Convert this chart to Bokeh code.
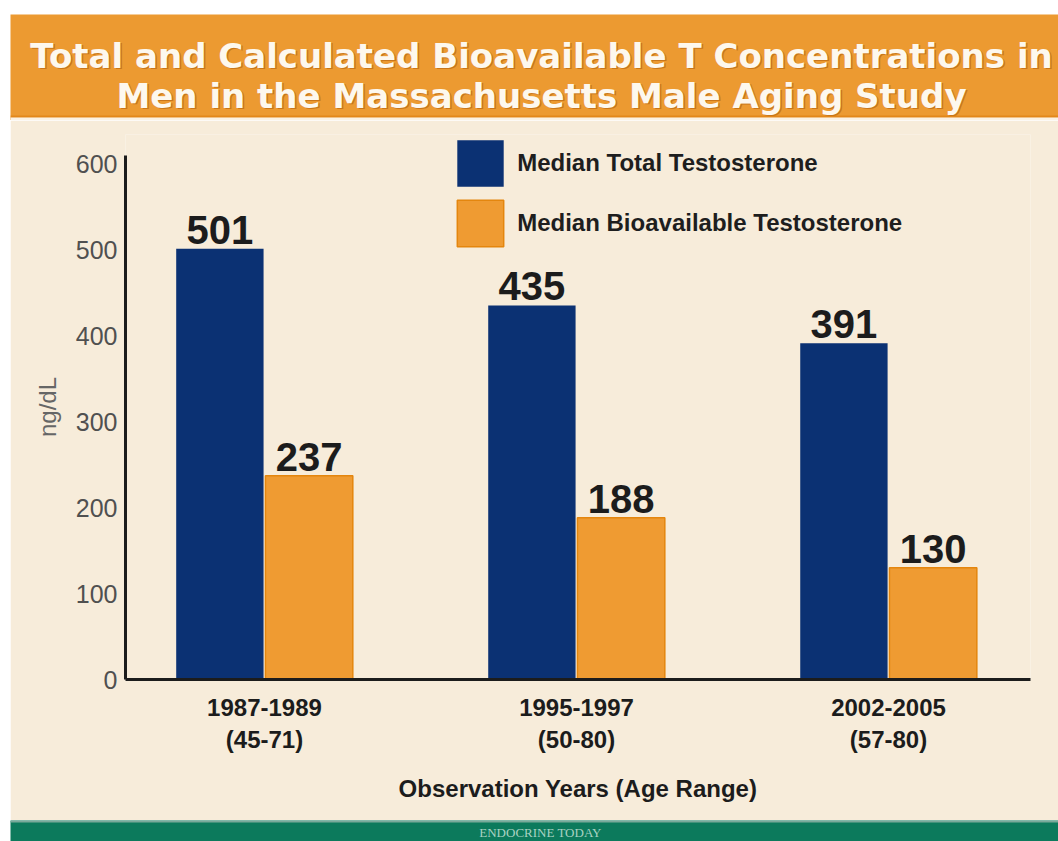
from bokeh.plotting import figure
from bokeh.models import (Range1d, FixedTicker, ColumnDataSource, Legend,
                          LegendItem, Label, BoxAnnotation, Spacer)
from bokeh.transform import dodge
from bokeh.layouts import column, row
from bokeh.core.properties import value
from bokeh.embed import file_html
from bokeh.resources import INLINE

# ---------------- data ----------------
title_lines = ["Total and Calculated Bioavailable T Concentrations in",
               "Men in the Massachusetts Male Aging Study"]
periods = ["1987-1989", "1995-1997", "2002-2005"]
age_ranges = ["(45-71)", "(50-80)", "(57-80)"]
total_t = [501, 435, 391]
bioavailable_t = [237, 188, 130]
series_names = ["Median Total Testosterone", "Median Bioavailable Testosterone"]
y_ticks = [0, 100, 200, 300, 400, 500, 600]
y_label = "ng/dL"
x_label = "Observation Years (Age Range)"
footer_text = "ENDOCRINE TODAY"

# ---------------- styles ----------------
LEFT_PAD = 10
W = 1058 - LEFT_PAD
BG = "#f7ecda"
ORANGE = "#ec9a31"
BAR_ORANGE = "#ef9b32"
BLUE = "#0b3173"
DARK = "#1c1c1c"
SANS = "Liberation Sans"

# ---------------- banner ----------------
BH = 120
banner = figure(width=W, height=BH, x_range=Range1d(0, W), y_range=Range1d(0, BH - 14),
                output_backend="svg", toolbar_location=None,
                x_axis_location=None, y_axis_location=None, frame_align=False,
                min_border=0, min_border_top=14,
                border_fill_color="white", background_fill_color=ORANGE,
                outline_line_color=None)
banner.grid.visible = False
banner.add_layout(BoxAnnotation(bottom=3, top=5, fill_color="#e2871a", fill_alpha=1, line_color=None))
banner.add_layout(BoxAnnotation(bottom=0, top=3, fill_color="#fbf2e4", fill_alpha=1, line_color=None))
for line, base in zip(title_lines, [55, 95]):
    yb = BH - base
    banner.add_layout(Label(x=532.5, y=yb - 1.5, text=line, text_color="#c9761a",
                            text_font="DejaVu Sans", text_font_size="34px",
                            text_font_style="bold", text_align="center",
                            text_baseline="alphabetic"))
    banner.add_layout(Label(x=531, y=yb, text=line, text_color="#fdf8ee",
                            text_font="DejaVu Sans", text_font_size="34px",
                            text_font_style="bold", text_align="center",
                            text_baseline="alphabetic"))

# ---------------- main chart ----------------
FL, FR, FT, FB = 125, 1030, 134, 679   # frame edges on the page
TOP, BOT = 120, 820                     # main figure vertical extent on the page
PX_PER_UNIT = 0.86                      # vertical scale: 600 units over 516 px
Y_TOP = (FB - FT) / PX_PER_UNIT         # range end so that 600 sits at page y 163
Y_AXIS_END = (FB - 155) / PX_PER_UNIT   # axis line stops at page y 155

x_idx = list(range(len(periods)))
src = ColumnDataSource(dict(
    x=x_idx,
    total=total_t,
    bio=bioavailable_t,
    total_lbl=[str(v) for v in total_t],
    bio_lbl=[str(v) for v in bioavailable_t],
))

p = figure(width=W, height=BOT - TOP, x_range=Range1d(-0.4455, 2.455), y_range=Range1d(0, Y_TOP),
           output_backend="svg", toolbar_location=None, frame_align=False,
           min_border=0, min_border_left=FL - LEFT_PAD, min_border_right=1058 - FR,
           min_border_top=FT - TOP, min_border_bottom=BOT - FB,
           border_fill_color=BG, background_fill_color=BG, outline_line_color=None)

OFF = 0.143
BW = 0.28
r_total = p.vbar(x=dodge("x", -OFF), top="total", width=BW, source=src,
                 fill_color=BLUE, line_color=None)
r_bio = p.vbar(x=dodge("x", OFF), top="bio", width=BW, source=src,
               fill_color=BAR_ORANGE, line_color="#e4860e", line_width=1.5)

for col, lbl, off in [("total", "total_lbl", -OFF), ("bio", "bio_lbl", OFF)]:
    p.text(x=dodge("x", off), y=col, text=lbl, source=src, y_offset=-5,
           text_align="center", text_baseline="bottom", text_color=DARK,
           text_font=value(SANS), text_font_style="bold", text_font_size="40px")

p.grid.grid_line_color = None

xa = p.xaxis[0]
xa.ticker = FixedTicker(ticks=x_idx)
xa.major_label_overrides = {i: f"{a}\n{b}" for i, a, b in zip(x_idx, periods, age_ranges)}
xa.major_tick_line_color = None
xa.minor_tick_line_color = None
xa.axis_line_width = 3
xa.axis_line_color = DARK
xa.major_label_text_font = SANS
xa.major_label_text_font_size = "24px"
xa.major_label_text_font_style = "bold"
xa.major_label_text_color = DARK
xa.major_label_text_line_height = 1.2
xa.major_label_standoff = 8
xa.axis_label = x_label
xa.axis_label_text_font = SANS
xa.axis_label_text_font_size = "24px"
xa.axis_label_text_font_style = "bold"
xa.axis_label_text_color = DARK
xa.axis_label_standoff = 19

ya = p.yaxis[0]
ya.ticker = FixedTicker(ticks=y_ticks)
ya.bounds = (0, Y_AXIS_END)
ya.major_tick_line_color = None
ya.minor_tick_line_color = None
ya.axis_line_width = 3
ya.axis_line_color = DARK
ya.major_label_text_font = SANS
ya.major_label_text_font_size = "25px"
ya.major_label_text_color = "#505050"
ya.major_label_standoff = 2
ya.axis_label = y_label
ya.axis_label_text_font = SANS
ya.axis_label_text_font_size = "24px"
ya.axis_label_text_font_style = "normal"
ya.axis_label_text_color = "#666666"
ya.axis_label_standoff = 12

# legend: vbar legend glyphs are inset by 10% of the glyph box
GW = 58
INSET = GW * 0.1
legend = Legend(items=[LegendItem(label=series_names[0], renderers=[r_total]),
                       LegendItem(label=series_names[1], renderers=[r_bio])],
                location=(457 - INSET - FL, FB - (140 - INSET + 2 * GW + 2)),
                orientation="vertical",
                glyph_width=GW, glyph_height=GW, spacing=2, padding=0, margin=0,
                label_standoff=8, label_height=GW,
                label_text_font=SANS, label_text_font_size="24px",
                label_text_font_style="bold", label_text_color="#1e1e1e",
                background_fill_alpha=0, border_line_alpha=0)
p.add_layout(legend)

# ---------------- footer ----------------
FH = 21
footer = figure(width=W, height=FH, x_range=Range1d(0, W), y_range=Range1d(0, FH),
                output_backend="svg", toolbar_location=None,
                x_axis_location=None, y_axis_location=None, frame_align=False,
                min_border=0, border_fill_color="#0c7a5c", background_fill_color="#0c7a5c",
                outline_line_color=None)
footer.grid.visible = False
footer.add_layout(BoxAnnotation(bottom=FH - 2, top=FH, fill_color="#7aa99a", fill_alpha=1, line_color=None))
footer.add_layout(Label(x=530, y=9, text=footer_text, text_color="#a9d2c2",
                        text_font="Liberation Serif", text_font_size="13px",
                        text_align="center", text_baseline="middle"))

layout = row(Spacer(width=LEFT_PAD, height=841), column(banner, p, footer, spacing=0), spacing=0)
open("out.html", "w").write(file_html(layout, INLINE))
